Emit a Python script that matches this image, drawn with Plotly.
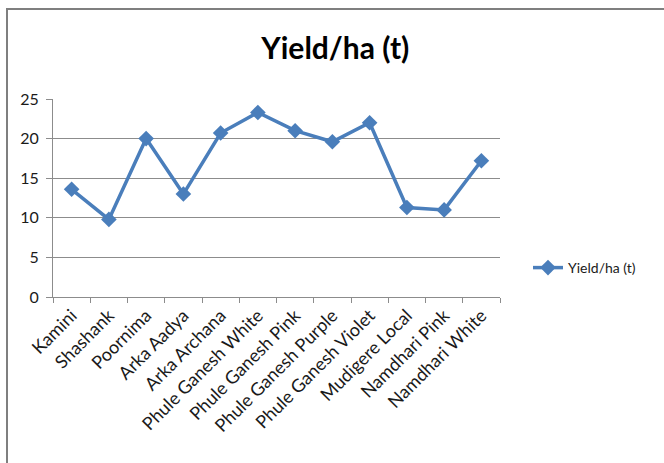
import plotly.graph_objects as go

# Brinjal varieties and their yield per hectare (tonnes)
varieties = [
    "Kamini", "Shashank", "Poornima", "Arka Aadya", "Arka Archana",
    "Phule Ganesh White", "Phule Ganesh Pink", "Phule Ganesh Purple",
    "Phule Ganesh Violet", "Mudigere Local", "Namdhari Pink", "Namdhari White",
]
yield_t = [13.6, 9.8, 20.0, 13.0, 20.7, 23.3, 21.0, 19.6, 22.0, 11.3, 11.0, 17.2]
y_ticks = [0, 5, 10, 15, 20, 25]
series_name = "Yield/ha (t)"

W, H = 664, 463
ML, MR, MT, MB = 53, 164, 99, 166
PW, PH = W - ML - MR, H - MT - MB

FONT = "Lato, 'Open Sans', sans-serif"
GRID = "#8c8c8c"
BLUE = "#4a7ebb"
TEXT = "#1a1a1a"

fig = go.Figure()
fig.add_trace(go.Scatter(
    x=varieties, y=yield_t, name=series_name, mode="lines+markers",
    line=dict(color=BLUE, width=3.5),
    marker=dict(symbol="diamond", size=12, color=BLUE),
))

def px_x(p):
    return (p - ML) / PW

def px_y(p):
    return (MT + PH - p) / PH

fig.update_layout(
    width=W, height=H,
    margin=dict(l=ML, r=MR, t=MT, b=MB),
    paper_bgcolor="white", plot_bgcolor="white",
    font=dict(family=FONT, size=14, color=TEXT),
    title=dict(text="<b>Yield/ha (t)</b>", x=0.505, xanchor="center",
               y=1 - 48 / H, yanchor="middle",
               font=dict(family=FONT, size=30, color="black")),
    showlegend=True,
    legend=dict(x=px_x(528), xanchor="left", y=px_y(268), yanchor="middle",
                bgcolor="rgba(0,0,0,0)", font=dict(size=14, color=TEXT)),
    xaxis=dict(type="category", showgrid=False, showline=True, linecolor=GRID,
               linewidth=1, ticks="outside", tickson="boundaries", ticklen=5,
               tickcolor=GRID, tickangle=-45, tickfont=dict(size=18, color=TEXT),
               range=[-0.5, len(varieties) - 0.5]),
    yaxis=dict(range=[0, 25], tickvals=y_ticks, showgrid=True, gridcolor=GRID,
               gridwidth=1, showline=True, linecolor=GRID, linewidth=1,
               ticks="outside", ticklen=6, tickcolor=GRID, zeroline=False,
               ticklabelstandoff=4, tickfont=dict(size=16, color=TEXT)),
    shapes=[
        dict(type="line", xref="paper", yref="paper",
             x0=px_x(6), x1=px_x(W + 5), y0=px_y(9), y1=px_y(9),
             line=dict(color="#7f7f7f", width=2)),
        dict(type="line", xref="paper", yref="paper",
             x0=px_x(7), x1=px_x(7), y0=px_y(8), y1=px_y(H + 5),
             line=dict(color="#7f7f7f", width=2)),
    ],
)

fig.write_html("out.html")
